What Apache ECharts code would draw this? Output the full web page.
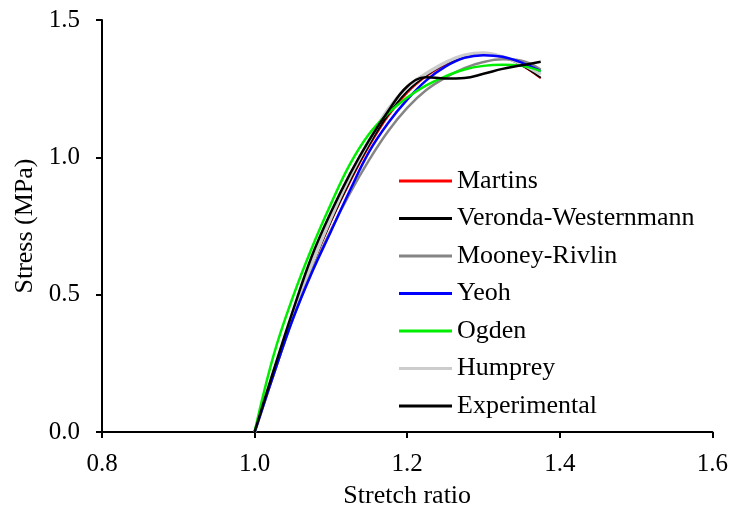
<!DOCTYPE html>
<html>
<head>
<meta charset="utf-8">
<script src="https://cdn.jsdelivr.net/npm/echarts@6/dist/echarts.min.js"></script>
<style>html,body{margin:0;padding:0;background:#fff}#c{width:731px;height:516px}</style>
</head>
<body>
<div id="c"></div>
<script>
const stretch = [1.0, 1.025, 1.05, 1.075, 1.1, 1.125, 1.15, 1.175, 1.2, 1.225, 1.25, 1.275, 1.3, 1.325, 1.35, 1.375];
const martins   = [0, 0.21, 0.415, 0.60, 0.765, 0.91, 1.04, 1.15, 1.235, 1.295, 1.338, 1.365, 1.375, 1.365, 1.335, 1.288];
const veronda   = [0, 0.212, 0.418, 0.603, 0.768, 0.915, 1.045, 1.155, 1.24, 1.298, 1.34, 1.366, 1.376, 1.366, 1.336, 1.29];
const mooney    = [0, 0.21, 0.41, 0.585, 0.735, 0.87, 0.99, 1.095, 1.18, 1.245, 1.29, 1.325, 1.347, 1.357, 1.352, 1.32];
const yeoh      = [0, 0.21, 0.41, 0.58, 0.73, 0.88, 1.02, 1.125, 1.21, 1.28, 1.33, 1.362, 1.372, 1.366, 1.345, 1.314];
const ogden     = [0, 0.28, 0.49, 0.67, 0.83, 0.975, 1.085, 1.16, 1.218, 1.262, 1.295, 1.32, 1.333, 1.337, 1.333, 1.314];
const humprey   = [0, 0.215, 0.42, 0.61, 0.78, 0.93, 1.06, 1.175, 1.255, 1.305, 1.345, 1.372, 1.38, 1.366, 1.34, 1.302];
const experimental = [0, 0.225, 0.44, 0.64, 0.80, 0.94, 1.062, 1.168, 1.258, 1.292, 1.287, 1.289, 1.304, 1.322, 1.335, 1.348];
const xTicks = { min: 0.8, max: 1.6, step: 0.2 };
const yTicks = { min: 0, max: 1.5, step: 0.5 };
const legendOrder = ['Martins', 'Veronda-Westernmann', 'Mooney-Rivlin', 'Yeoh', 'Ogden', 'Humprey', 'Experimental'];

const pair = arr => stretch.map((s, i) => [s, arr[i]]);
const FONT = 'Liberation Serif';
const mk = (name, arr, color, width) => ({
  name, type: 'line', data: pair(arr), symbol: 'none', smooth: 0.4,
  lineStyle: { color, width }, itemStyle: { color }
});

const chart = echarts.init(document.getElementById('c'), null, { renderer: 'canvas' });
chart.setOption({
  animation: false,
  backgroundColor: '#fff',
  grid: { left: 102, right: 17, top: 20, bottom: 84, containLabel: false },
  xAxis: {
    type: 'value', min: xTicks.min, max: xTicks.max, interval: xTicks.step,
    name: 'Stretch ratio', nameLocation: 'middle', nameGap: 51,
    nameTextStyle: { fontFamily: FONT, fontSize: 26, color: '#000' },
    axisLine: { show: true, lineStyle: { color: '#000', width: 2 } },
    axisTick: { show: true, inside: false, length: 6, lineStyle: { color: '#000', width: 2 } },
    axisLabel: { fontFamily: FONT, fontSize: 25, color: '#000', margin: 20, formatter: v => v.toFixed(1) },
    splitLine: { show: false }
  },
  yAxis: {
    type: 'value', min: yTicks.min, max: yTicks.max, interval: yTicks.step,
    name: 'Stress (MPa)', nameLocation: 'middle', nameGap: 64,
    nameTextStyle: { fontFamily: FONT, fontSize: 26, color: '#000' },
    axisLine: { show: true, lineStyle: { color: '#000', width: 2 } },
    axisTick: { show: true, inside: false, length: 6, lineStyle: { color: '#000', width: 2 } },
    axisLabel: { fontFamily: FONT, fontSize: 25, color: '#000', margin: 22, formatter: v => v.toFixed(1) },
    splitLine: { show: false }
  },
  legend: {
    data: legendOrder, orient: 'vertical', left: 394, top: 163,
    icon: 'rect', itemWidth: 53, itemHeight: 3, itemGap: 11.5,
    textStyle: { fontFamily: FONT, fontSize: 26, color: '#000', lineHeight: 26 }
  },
  series: [
    mk('Martins', martins, '#ff0000', 2),
    mk('Veronda-Westernmann', veronda, '#000000', 2),
    mk('Humprey', humprey, '#cccccc', 3.5),
    mk('Mooney-Rivlin', mooney, '#858585', 2.5),
    mk('Yeoh', yeoh, '#0000ff', 2.5),
    mk('Ogden', ogden, '#00ee00', 2.5),
    mk('Experimental', experimental, '#000000', 2.5)
  ]
});
</script>
</body>
</html>
